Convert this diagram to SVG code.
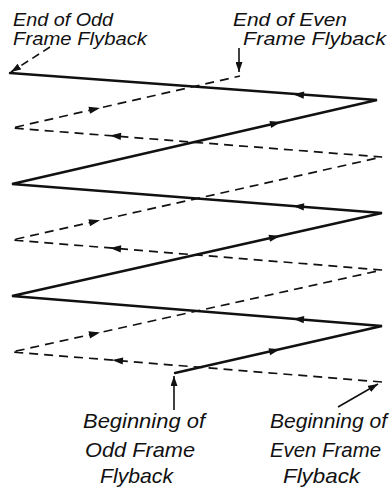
<svg xmlns="http://www.w3.org/2000/svg" xmlns:xlink="http://www.w3.org/1999/xlink" width="390" height="492" viewBox="0 0 390 492">
<style>
.lbl{font-family:"Liberation Sans","DejaVu Sans",sans-serif;font-style:italic;font-size:19px;fill:#111}
.big{font-size:21px}
.solid{fill:none;stroke:#111;stroke-width:2.4;stroke-linejoin:miter;stroke-linecap:round}
.dash{fill:none;stroke:#111;stroke-width:1.7;stroke-dasharray:9 6}
.ptr{fill:none;stroke:#111;stroke-width:1.6}
.ptrd{fill:none;stroke:#111;stroke-width:1.6;stroke-dasharray:8 5}
.ah{fill:#111}
</style>
<defs>
<marker id="m" viewBox="0 0 10 7" refX="10" refY="3.5" markerWidth="10" markerHeight="7" markerUnits="userSpaceOnUse" orient="auto"><path d="M0,0L10,3.5L0,7Z" fill="#111"/></marker>
<path id="tri" d="M0,0L-11,-3.6L-11,3.6Z"/>
</defs>
<rect width="390" height="492" fill="#fff"/>
<g id="connectors">
<path id="odd-trace" class="solid" d="M175,373 L382,326 L12,296 L382,213 L12,184 L377,100 L10,73"/>
<path id="even-trace" class="dash" d="M382,382 L12,352 L382,270 L12,240 L382,157 L12,128 L240,76"/>
<g class="ah">
<use xlink:href="#tri" transform="translate(280,349.2) rotate(-12.8)"/>
<use xlink:href="#tri" transform="translate(293,318.8) rotate(-175.4)"/>
<use xlink:href="#tri" transform="translate(280,235.9) rotate(-12.6)"/>
<use xlink:href="#tri" transform="translate(293,206) rotate(-175.5)"/>
<use xlink:href="#tri" transform="translate(281,122.1) rotate(-13)"/>
<use xlink:href="#tri" transform="translate(293,94.3) rotate(-175.8)"/>
<use xlink:href="#tri" transform="translate(112,360.1) rotate(-175.4)"/>
<use xlink:href="#tri" transform="translate(100,332.5) rotate(-12.5)"/>
<use xlink:href="#tri" transform="translate(110,248) rotate(-175.4)"/>
<use xlink:href="#tri" transform="translate(100,220.3) rotate(-12.6)"/>
<use xlink:href="#tri" transform="translate(110,135.6) rotate(-175.5)"/>
<use xlink:href="#tri" transform="translate(100,107.9) rotate(-12.85)"/>
</g>
<line class="ptrd" x1="50" y1="47" x2="11" y2="72" marker-end="url(#m)"/>
<line class="ptr" x1="239" y1="48" x2="239" y2="72" marker-end="url(#m)"/>
<line class="ptr" x1="174" y1="410" x2="174" y2="376" marker-end="url(#m)"/>
<line class="ptr" x1="338" y1="407" x2="378" y2="384" marker-end="url(#m)"/>
</g>
<g id="end-odd">
<text class="lbl" x="13" y="26" textLength="100" lengthAdjust="spacingAndGlyphs">End of Odd</text>
<text class="lbl" x="13" y="45" textLength="134" lengthAdjust="spacingAndGlyphs">Frame Flyback</text>
</g>
<g id="end-even">
<text class="lbl" x="233" y="26" textLength="114" lengthAdjust="spacingAndGlyphs">End of Even</text>
<text class="lbl" x="243" y="45" textLength="143" lengthAdjust="spacingAndGlyphs">Frame Flyback</text>
</g>
<g id="begin-odd">
<text class="lbl big" x="83" y="428" textLength="122" lengthAdjust="spacingAndGlyphs">Beginning of</text>
<text class="lbl big" x="85" y="457" textLength="110" lengthAdjust="spacingAndGlyphs">Odd Frame</text>
<text class="lbl big" x="100" y="483" textLength="73" lengthAdjust="spacingAndGlyphs">Flyback</text>
</g>
<g id="begin-even">
<text class="lbl big" x="270" y="428" textLength="117" lengthAdjust="spacingAndGlyphs">Beginning of</text>
<text class="lbl big" x="270" y="457" textLength="111" lengthAdjust="spacingAndGlyphs">Even Frame</text>
<text class="lbl big" x="283" y="483" textLength="77" lengthAdjust="spacingAndGlyphs">Flyback</text>
</g>
</svg>
